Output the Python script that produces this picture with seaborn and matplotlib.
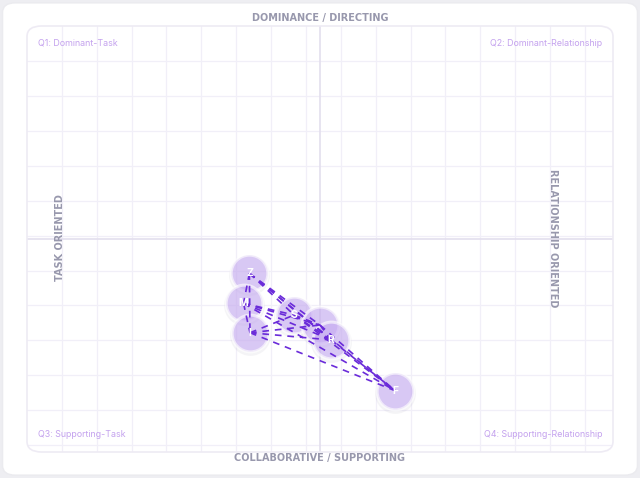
import numpy as np
import pandas as pd
import matplotlib
matplotlib.use('Agg')
import matplotlib.pyplot as plt
from matplotlib.patches import FancyBboxPatch
import seaborn as sns
from itertools import combinations

sns.set_style('white')
plt.rcParams['font.family'] = ['Inter', 'DejaVu Sans']

# chart data (score from -100 to 100 on both axes)
names = ['Z', 'M', 'I', 'S', 'C', 'R', 'F']
labels = ['Z', 'M', 'I', 'S', '', 'R', 'F']
x_vals = [-24.1, -26.1, -23.9, -8.8, 0.0, 3.8, 25.6]
y_vals = [-16.1, -30.2, -44.0, -35.7, -40.4, -47.4, -71.2]

quad_labels = ['Q1: Dominant-Task', 'Q2: Dominant-Relationship',
               'Q3: Supporting-Task', 'Q4: Supporting-Relationship']
top_title = 'DOMINANCE / DIRECTING'
bottom_title = 'COLLABORATIVE / SUPPORTING'
left_title = 'TASK ORIENTED'
right_title = 'RELATIONSHIP ORIENTED'

df = pd.DataFrame({'name': names, 'label': labels, 'x': x_vals, 'y': y_vals})

fig = plt.figure(figsize=(6.4, 4.78), dpi=100, facecolor='#eeeef2')
# outer card
fig.patches.append(FancyBboxPatch((0.004, 0.006), 0.992, 0.988,
                                  boxstyle='round,pad=0,rounding_size=0.02',
                                  transform=fig.transFigure, facecolor='white',
                                  edgecolor='#ebebef', linewidth=1, zorder=-5))

ax = fig.add_axes([27/640, 1-452/478, 586/640, 426/478])
ax.set_zorder(1)
ax.set_xlim(-100, 100)
ax.set_ylim(-100, 100)
ax.patch.set_alpha(0)

# grid
for gx in np.arange(-100+11.9, 100, 11.9):
    ax.axvline(gx, color='#f1eff8', lw=0.9, zorder=0)
for gy in np.arange(100-16.4, -100, -16.4):
    ax.axhline(gy, color='#f1eff8', lw=0.9, zorder=0)
ax.axvline(0, color='#e3dfee', lw=1.2, zorder=0)
ax.axhline(0, color='#e3dfee', lw=1.2, zorder=0)

for s in ax.spines.values():
    s.set_visible(False)
ax.set_xticks([])
ax.set_yticks([])
ax.add_patch(FancyBboxPatch((0, 0), 1, 1, boxstyle='round,pad=0,rounding_size=0.025',
                            transform=ax.transAxes, facecolor='none',
                            edgecolor='#eeebf4', linewidth=1.2, zorder=1, clip_on=False))

# shadows
ax.scatter(df['x'], df['y'] - 1.0, s=860, color='#8c88a0', alpha=0.09,
           linewidths=0, zorder=2)

# circles
sns.scatterplot(data=df, x='x', y='y', s=700, color='#c8adf3', alpha=0.62,
                edgecolor='white', linewidth=2.2, legend=False, zorder=3, ax=ax)

# labels
for _, r in df.iterrows():
    ax.text(r['x'], r['y'], r['label'], color='white', fontsize=7.5, fontweight='bold',
            ha='center', va='center', zorder=6)

# dashed links between every pair
for i, j in combinations(range(len(df)), 2):
    ax.plot([df['x'][i], df['x'][j]], [df['y'][i], df['y'][j]], color='#6a2bd9',
            lw=1.2, ls=(0, (4, 3.5)), zorder=5)

ax.set_xlabel('')
ax.set_ylabel('')

# quadrant labels
qc = '#c4a2ee'
ax.text(0.018, 0.96, quad_labels[0], transform=ax.transAxes, color=qc, fontsize=6.4, ha='left', va='center')
ax.text(0.982, 0.96, quad_labels[1], transform=ax.transAxes, color=qc, fontsize=6.4, ha='right', va='center')
ax.text(0.018, 0.04, quad_labels[2], transform=ax.transAxes, color=qc, fontsize=6.4, ha='left', va='center')
ax.text(0.982, 0.04, quad_labels[3], transform=ax.transAxes, color=qc, fontsize=6.4, ha='right', va='center')

# axis titles
tc = '#9898ad'
fig.text(320/640, 1-18/478, top_title, color=tc, fontsize=7, fontweight='bold',
         ha='center', va='center', family=['DejaVu Sans'])
fig.text(320/640, 1-458/478, bottom_title, color=tc, fontsize=7, fontweight='bold',
         ha='center', va='center', family=['DejaVu Sans'])
fig.text(60/640, 1-238/478, left_title, color=tc, fontsize=7, fontweight='bold',
         ha='center', va='center', rotation=90, family=['DejaVu Sans'])
fig.text(553/640, 1-238/478, right_title, color=tc, fontsize=7, fontweight='bold',
         ha='center', va='center', rotation=-90, family=['DejaVu Sans'])

fig.savefig('out.png', dpi=100, facecolor=fig.get_facecolor())
